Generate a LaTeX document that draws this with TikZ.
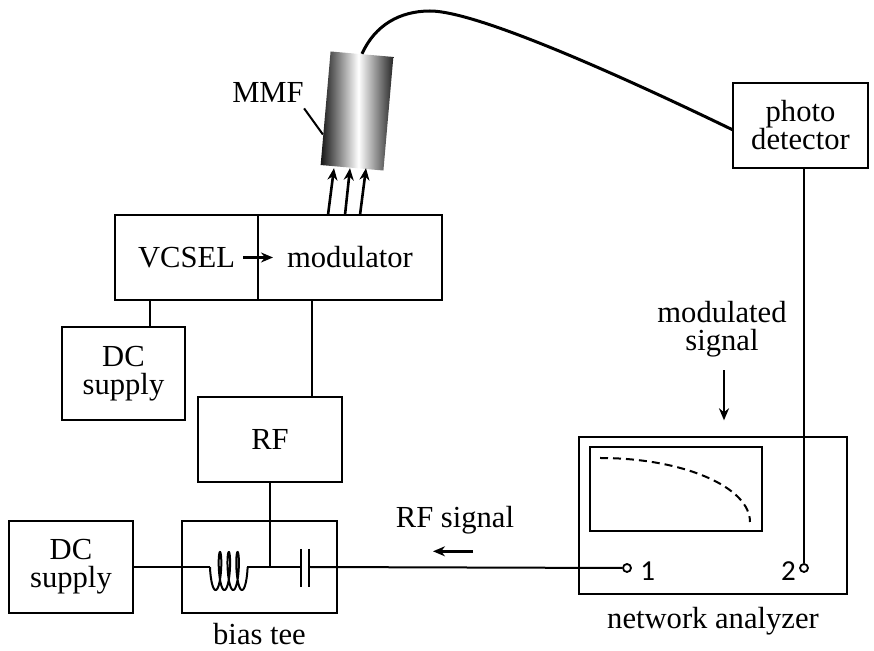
\documentclass[tikz,border=0pt]{standalone}
\usepackage{fontspec}
\setmainfont{Liberation Serif}
\newfontfamily\portfont{Carlito}
\usetikzlibrary{arrows.meta, positioning, calc}
% dark edges, bright streak just right of the middle
\pgfdeclarehorizontalshading{fibreshade}{100bp}{color(0bp)=(black!92); color(25bp)=(black!92); color(51bp)=(white); color(75bp)=(black!85); color(100bp)=(black!85)}

\begin{document}
\begin{tikzpicture}[
    x=0.5pt, y=-0.5pt,
    box/.style={rectangle, draw, line width=1pt, inner sep=0pt, outer sep=0pt,
                align=center, font=\fontsize{15.3}{14}\selectfont},
    txt/.style={align=center, font=\fontsize{15.3}{14}\selectfont, inner sep=3pt},
    wire/.style={line width=1pt},
    arr/.style={-{Stealth[length=6pt, width=5pt]}, line width=1.3pt},
    port/.style={circle, draw, fill=white, line width=0.9pt, minimum size=4pt, inner sep=0pt},
    num/.style={font=\portfont\fontsize{14.5}{14}\selectfont, inner sep=1pt}
  ]
    \useasboundingbox (0,0) rectangle (874,651);

    % laser, modulator and their supplies
    \node[box, minimum width=71.5pt, minimum height=42.5pt] (vcsel) at (186.5,257.5) {VCSEL};
    \node[box, minimum width=92pt, minimum height=42.5pt, right=0pt of vcsel] (mod) {modulator};
    \node[box, minimum width=61.5pt, minimum height=46.5pt] (dc1) at (123.5,373.5) {DC\\supply};
    \node[box, minimum width=72pt, minimum height=42.5pt] (rf) at (270,439.5) {RF};
    \node[box, minimum width=77.5pt, minimum height=46pt] (bt) at (259.5,567) {};
    \node[box, minimum width=62pt, minimum height=46pt] (dc2) at (71,567) {DC\\supply};

    % measurement side
    \node[box, minimum width=134pt, minimum height=78.5pt] (na) at (713,515.5) {};
    \node[box, minimum width=86pt, minimum height=42pt] (scr) at (676,489) {};
    \node[box, minimum width=67.5pt, minimum height=42.5pt] (pd) at (800.5,125.5) {photo\\detector};
    \node[minimum width=31.5pt, minimum height=57pt, inner sep=0pt, rotate=-5,
          shade, shading=fibreshade] (mmf) at (357,111) {};

    \node[port] (p1) at (627,568) {};
    \node[port] (p2) at (804,568) {};
    \node[num, right=3pt of p1, yshift=-1.5pt] {1};
    \node[num, left=0.5pt of p2, yshift=-1.5pt] {2};

    % labels
    \node[txt] (mmflbl) at (268,92) {MMF};
    \node[txt, below=2pt of bt] (btlbl) {bias tee};
    \node[txt, below=3.5pt of na] (nalbl) {network analyzer};
    \node[txt] (rfsig) at (455,520) {RF signal};
    \node[txt] (modsig) at (722,329) {modulated\\signal};

    \draw[arr] ([xshift=-7.5pt]vcsel.east) -- ([xshift=7.5pt]mod.west);
    \draw[arr] ([xshift=-11pt]mod.north) -- ([xshift=-9pt]mmf.south);
    \draw[arr] ([xshift=-2.5pt]mod.north) -- ([xshift=-1pt]mmf.south);
    \draw[arr] ([xshift=5pt]mod.north) -- ([xshift=7pt]mmf.south);

    \coordinate (vx) at (150,0);
    \coordinate (mx) at (312,0);
    \draw[wire] (vcsel.south -| vx) -- (dc1.north -| vx);
    \draw[wire] (mod.south -| mx) -- (rf.north -| mx);
    \draw[wire] (rf.south) -- (rf.south |- bt.center);

    % coil and capacitor of the bias tee
    \coordinate (lin) at (210,567);
    \coordinate (lout) at (247,567);
    \coordinate (ca) at (301,567);
    \coordinate (cb) at (309,567);
    \draw[wire] (dc2.east) -- (lin);
    \draw[wire] plot[smooth, domain=-0.21:22.2, samples=200, variable=\t]
        ({213.4+1.4*\t-3.2*cos(\t r)}, {571+19*sin(\t r)});
    \draw[wire] (lout) -- (ca);
    \draw[wire] (ca) ++(0,-18) -- ++(0,38);
    \draw[wire] (cb) ++(0,-18) -- ++(0,38);
    \draw[wire] (cb) -- (p1.west);
    \draw[wire] (p2.north) -- (p2.north |- pd.south);

    % fibre to the detector
    \draw[line width=1.5pt] (mmf.north) .. controls (375,25) and (400,11) .. (430,11)
        .. controls (480,11) and (640,85) .. ($(pd.west)+(0,4.5)$);
    \draw[line width=1pt] ([xshift=-3pt]mmflbl.south east) -- ($(mmf.north west)!0.73!(mmf.south west)$);

    \draw[arr] ($(rfsig.south)+(18,11)$) -- ++(-40,0);
    \draw[arr] ($(modsig.south)+(2,7)$) -- ++(0,50);

    % trace on the analyzer screen
    \draw[line width=1pt, dash pattern=on 4pt off 2.5pt] (600,458) .. controls (683,458) and (750,487) .. (750,522);
  \end{tikzpicture}
\end{document}
